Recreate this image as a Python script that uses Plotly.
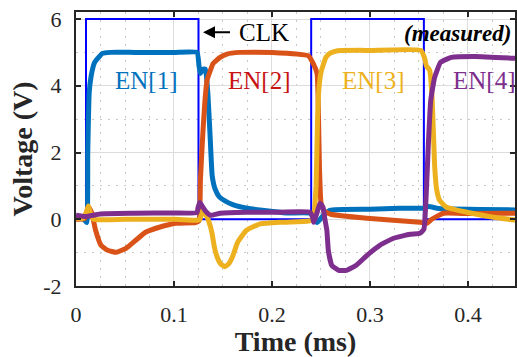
import plotly.graph_objects as go

# ---------------- data (time in ms, voltage in V) ----------------
clk_t = [0, 0.0102, 0.0102, 0.125, 0.125, 0.240, 0.240, 0.355, 0.355, 0.45]
clk_v = [0, 0, 6, 6, 0, 0, 6, 6, 0, 0]

en1_t = [0, 0.008, 0.011, 0.012, 0.0135, 0.0155, 0.019, 0.027, 0.035, 0.06, 0.1, 0.1235,
         0.1255, 0.127, 0.1295, 0.132, 0.1345, 0.137, 0.139, 0.142, 0.146, 0.152, 0.16,
         0.175, 0.19, 0.215, 0.239, 0.2425, 0.246, 0.252, 0.259, 0.3, 0.33, 0.354, 0.36,
         0.37, 0.45]
en1_v = [0.05, 0.0, -0.1, 2.0, 3.8, 4.3, 4.7, 4.97, 5.0, 5.0, 5.0, 5.0,
         4.6, 4.37, 4.5, 4.5, 3.8, 2.4, 1.3, 0.9, 0.68, 0.55, 0.44,
         0.33, 0.27, 0.19, 0.18, 0.05, -0.1, 0.1, 0.27, 0.3, 0.33, 0.33, 0.38,
         0.32, 0.28]

en2_t = [0, 0.009, 0.0125, 0.016, 0.020, 0.0255, 0.0323, 0.041, 0.051, 0.061, 0.071,
         0.085, 0.102, 0.122, 0.1255, 0.127, 0.1295, 0.1316, 0.1337, 0.137, 0.14, 0.147,
         0.154, 0.167, 0.2, 0.237, 0.242, 0.246, 0.2475, 0.2485, 0.250, 0.253, 0.26,
         0.297, 0.351, 0.358, 0.363, 0.375, 0.4, 0.45]
en2_v = [0.0, 0.02, 0.38, 0.2, -0.33, -0.78, -0.93, -0.99, -0.87, -0.63, -0.39,
         -0.24, -0.12, -0.1, -0.05, 1.2, 2.6, 3.56, 4.16, 4.45, 4.67, 4.85,
         4.95, 5.0, 5.0, 4.9, 4.67, 4.37, 3.0, 1.5, 0.5, 0.25, 0.15,
         0.03, -0.09, -0.12, 0.0, 0.18, 0.17, 0.18]

en3_t = [0, 0.007, 0.0105, 0.0125, 0.015, 0.018, 0.05, 0.1, 0.124, 0.1265, 0.129, 0.131,
         0.134, 0.137, 0.139, 0.141, 0.144, 0.148, 0.152, 0.156, 0.160, 0.165, 0.174,
         0.188, 0.208, 0.236, 0.2405, 0.2425, 0.245, 0.2465, 0.248, 0.250, 0.252, 0.255,
         0.259, 0.267, 0.3, 0.352, 0.356, 0.3575, 0.361, 0.3635, 0.366, 0.368, 0.371,
         0.378, 0.388, 0.399, 0.426, 0.45]
en3_v = [0.03, 0.03, 0.2, 0.4, 0.15, 0.0, 0.0, 0.0, -0.03, 0.0, 0.25, 0.2,
         0.05, -0.2, -0.45, -0.8, -1.13, -1.35, -1.42, -1.33, -1.1, -0.69, -0.33,
         -0.14, -0.09, -0.06, -0.03, 0.06, 1.0, 3.0, 3.95, 4.4, 4.6, 4.85,
         4.97, 5.05, 5.06, 5.06, 4.8, 4.6, 4.46, 3.56, 1.6, 0.9, 0.57,
         0.36, 0.28, 0.21, 0.06, -0.03]

en4_t = [0, 0.01, 0.0245, 0.06, 0.1, 0.1235, 0.1245, 0.1265, 0.1286, 0.132, 0.137, 0.147,
         0.174, 0.208, 0.239, 0.2415, 0.2425, 0.246, 0.249, 0.252, 0.254, 0.256, 0.2575,
         0.261, 0.268, 0.276, 0.286, 0.297, 0.31, 0.324, 0.341, 0.351, 0.355, 0.357,
         0.3595, 0.362, 0.366, 0.372, 0.383, 0.407, 0.45]
en4_v = [0.12, 0.08, 0.16, 0.18, 0.19, 0.2, 0.35, 0.5, 0.4, 0.25, 0.12, 0.18,
         0.21, 0.21, 0.21, 0.05, -0.09, 0.2, 0.48, 0.36, 0.0, -0.33, -0.93,
         -1.38, -1.53, -1.53, -1.38, -1.08, -0.78, -0.57, -0.45, -0.42, -0.3, 0.5,
         2.2, 3.56, 4.25, 4.7, 4.85, 4.88, 4.82]

series_names = ["EN[1]", "EN[2]", "EN[3]", "EN[4]"]
label_x = [0.0714, 0.187, 0.303, 0.416]
label_y = [4.17, 4.17, 4.17, 4.17]

x_ticks = [0, 0.1, 0.2, 0.3, 0.4]
x_tick_text = ["0", "0.1", "0.2", "0.3", "0.4"]
y_ticks = [-2, 0, 2, 4, 6]
y_tick_text = ["-2", "0", "2", "4", "6"]

# ---------------- styling ----------------
line_colors = ["#0072BD", "#D95319", "#EDB120", "#7E2F8E"]
text_colors = ["#0072BD", "#C81414", "#EDB120", "#7E2F8E"]
FONT = "Liberation Serif"
AX = "#262626"

fig = go.Figure()
fig.add_trace(go.Scatter(x=clk_t, y=clk_v, mode="lines", name="CLK",
                         line=dict(color="#0000FF", width=2)))
for t, v, c, n in zip([en1_t, en2_t, en3_t, en4_t], [en1_v, en2_v, en3_v, en4_v],
                      line_colors, series_names):
    fig.add_trace(go.Scatter(x=t, y=v, mode="lines", name=n,
                             line=dict(color=c, width=5, shape="spline", smoothing=0.4)))

for n, x, y, c in zip(series_names, label_x, label_y, text_colors):
    fig.add_annotation(x=x, y=y, text=n, showarrow=False,
                       font=dict(family=FONT, size=25, color=c))

# CLK arrow + label
fig.add_annotation(x=0.1296, y=5.6, text=" ", showarrow=True, axref="pixel", ayref="pixel",
                   ax=30, ay=0, arrowhead=2, arrowsize=1.2, arrowwidth=2, arrowcolor="black",
                   standoff=0, startstandoff=0)
fig.add_annotation(x=0.1643, y=5.6, text="CLK", showarrow=False, xanchor="left",
                   font=dict(family=FONT, size=25, color="black"))
fig.add_annotation(x=0.446, y=5.57, text="<b><i>(measured)</i></b>", showarrow=False,
                   xanchor="right", font=dict(family=FONT, size=23, color="black"))

axis_common = dict(showline=True, linecolor=AX, linewidth=2, mirror="ticks",
                   ticks="inside", ticklen=5, tickwidth=1.5, tickcolor=AX,
                   showgrid=True, gridcolor="#dcdcdc", gridwidth=1, zeroline=False,
                   tickfont=dict(family=FONT, size=22, color=AX), ticklabelstandoff=8)

fig.update_xaxes(range=[0, 0.448], tickvals=x_ticks, ticktext=x_tick_text,
                 minor=dict(dtick=0.025, showgrid=True, griddash="2px,6px",
                            gridcolor="#c8c8c8", gridwidth=1, ticks=""),
                 title=dict(text="<b>Time (ms)</b>", font=dict(family=FONT, size=28, color=AX),
                            standoff=6),
                 **axis_common)
fig.update_yaxes(range=[-2, 6.21], tickvals=y_ticks, ticktext=y_tick_text,
                 minor=dict(dtick=1, showgrid=True, griddash="2px,6px",
                            gridcolor="#c8c8c8", gridwidth=1, ticks=""),
                 title=dict(text="<b>Voltage (V)</b>", font=dict(family=FONT, size=28, color=AX),
                            standoff=2),
                 **axis_common)

fig.update_layout(width=517, height=357, margin=dict(l=76, r=2, t=12, b=71, autoexpand=False),
                  plot_bgcolor="white", paper_bgcolor="white", showlegend=False,
                  font=dict(family=FONT))

fig.write_html("out.html", config={"displayModeBar": False},
               post_script="document.body.style.margin='0';document.body.style.overflow='hidden';")
